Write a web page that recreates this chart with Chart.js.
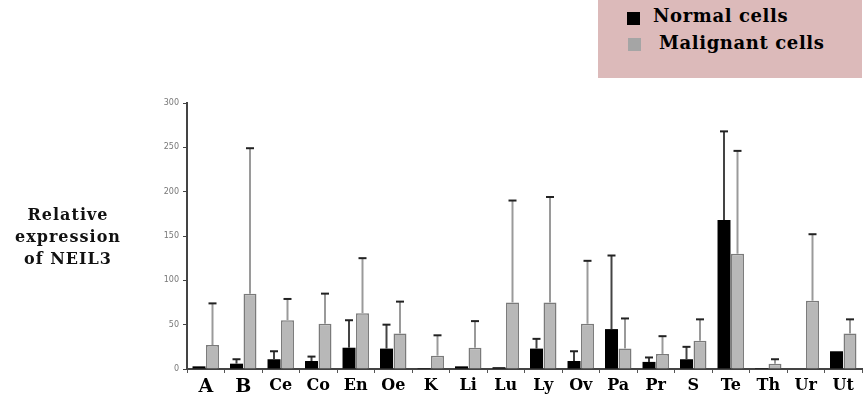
<!DOCTYPE html>
<html lang="en">
<head>
    <meta charset="UTF-8">
    <title>NEIL3 expression</title>
    <script src="https://cdn.jsdelivr.net/npm/chart.js"></script>
    <style>
        body {
            margin: 0;
            background: #ffffff;
        }
        #wrap {
            position: relative;
            width: 864px;
            height: 401px;
        }
        #legendBox {
            position: absolute;
            left: 598px;
            top: 0;
            width: 264px;
            height: 78px;
            background: #dcbaba;
            font-family: "DejaVu Serif", serif;
            font-weight: bold;
            font-size: 18px;
            letter-spacing: 0.6px;
            color: #000;
        }
        .item {
            position: absolute;
            white-space: nowrap;
        }
        .sw {
            position: absolute;
            width: 13px;
            height: 13px;
        }
        #ytitle {
            position: absolute;
            left: 0;
            top: 204px;
            width: 136px;
            text-align: center;
            font-family: "DejaVu Serif", serif;
            font-weight: bold;
            font-size: 16px;
            letter-spacing: 1px;
            line-height: 22px;
            color: #111;
        }
    </style>
</head>
<body>
<div id="wrap">
    <canvas id="chart" width="864" height="401"></canvas>
    <div id="legendBox">
        <div class="sw" style="left:29px;top:12px;background:#000;"></div>
        <div class="item" style="left:55px;top:5px;">Normal cells</div>
        <div class="sw" style="left:30px;top:38px;background:#a5a5a5;"></div>
        <div class="item" style="left:61px;top:32px;">Malignant cells</div>
    </div>
    <div id="ytitle">Relative<br>expression<br>of NEIL3</div>
</div>

<script>
    // tissue codes along the x axis
    const tissues = ['A', 'B', 'Ce', 'Co', 'En', 'Oe', 'K', 'Li', 'Lu', 'Ly', 'Ov', 'Pa', 'Pr', 'S', 'Te', 'Th', 'Ur', 'Ut'];

    // mean relative expression
    const normalMean    = [3, 6, 11, 9, 24, 23, 1, 3, 2, 23, 9, 45, 8, 11, 168, 1, 0, 20];
    const malignantMean = [27, 85, 55, 51, 63, 40, 15, 24, 75, 75, 51, 23, 17, 32, 130, 6, 77, 40];

    // top of the error bars (mean + SD)
    const normalErr    = [3, 11, 20, 14, 55, 50, 1, 3, 2, 34, 20, 128, 13, 25, 268, 1, 0, 20];
    const malignantErr = [74, 249, 79, 85, 125, 76, 38, 54, 190, 194, 122, 57, 37, 56, 246, 11, 152, 56];

    const yTicks = [0, 50, 100, 150, 200, 250, 300];

    const errorBars = {
        id: 'errorBars',
        afterDatasetsDraw(chart) {
            const ctx = chart.ctx;
            const y = chart.scales.y;
            chart.data.datasets.forEach((ds, di) => {
                const meta = chart.getDatasetMeta(di);
                meta.data.forEach((bar, i) => {
                    const top = ds.errTop[i];
                    if (top <= ds.data[i]) return;
                    const yTop = y.getPixelForValue(top);
                    ctx.save();
                    ctx.strokeStyle = ds.errColor;
                    ctx.lineWidth = 2;
                    ctx.beginPath();
                    ctx.moveTo(bar.x, bar.y);
                    ctx.lineTo(bar.x, yTop);
                    ctx.stroke();
                    ctx.strokeStyle = '#222';
                    ctx.beginPath();
                    ctx.moveTo(bar.x - 4, yTop);
                    ctx.lineTo(bar.x + 4, yTop);
                    ctx.stroke();
                    ctx.restore();
                });
            });
        }
    };

    new Chart(document.getElementById('chart'), {
        type: 'bar',
        data: {
            labels: tissues,
            datasets: [
                {
                    label: 'Normal cells',
                    data: normalMean,
                    errTop: normalErr,
                    errColor: '#444',
                    backgroundColor: '#000000',
                    borderWidth: 0,
                    categoryPercentage: 0.72,
                    barPercentage: 0.96
                },
                {
                    label: 'Malignant cells',
                    data: malignantMean,
                    errTop: malignantErr,
                    errColor: '#9a9a9a',
                    backgroundColor: '#b8b8b8',
                    borderColor: '#7a7a7a',
                    borderWidth: 1.5,
                    categoryPercentage: 0.72,
                    barPercentage: 0.96
                }
            ]
        },
        options: {
            responsive: false,
            animation: false,
            layout: {
                padding: { left: 140, top: 103, right: 2, bottom: 2 }
            },
            plugins: {
                legend: { display: false },
                tooltip: { enabled: false }
            },
            scales: {
                x: {
                    grid: {
                        display: true,
                        drawOnChartArea: false,
                        tickLength: 4,
                        color: '#555'
                    },
                    border: { color: '#444', width: 2 },
                    ticks: {
                        color: '#000',
                        padding: 3,
                        font: ctx => ({
                            family: 'DejaVu Serif',
                            weight: 'bold',
                            size: ctx.index < 2 ? 19 : 16
                        })
                    },
                    afterFit: s => { s.height = 30; }
                },
                y: {
                    min: 0,
                    max: 300,
                    afterBuildTicks: s => { s.ticks = yTicks.map(v => ({ value: v })); },
                    grid: {
                        display: true,
                        drawOnChartArea: false,
                        tickLength: 4,
                        color: '#444'
                    },
                    border: { color: '#444', width: 2 },
                    ticks: {
                        color: '#777',
                        padding: 4,
                        font: { family: 'DejaVu Sans', size: 8 }
                    },
                    afterFit: s => { s.width = 47; }
                }
            }
        },
        plugins: [errorBars]
    });
</script>
</body>
</html>
